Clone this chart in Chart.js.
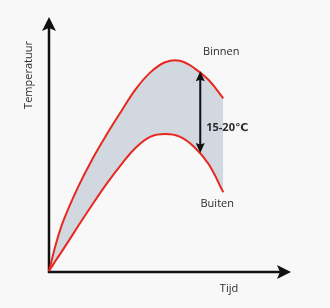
<!DOCTYPE html>
<html>
<head>
<meta charset="utf-8">
<script src="https://cdn.jsdelivr.net/npm/chart.js@4.4.1/dist/chart.umd.min.js"></script>
<style>
  html, body { margin: 0; padding: 0; background: #f8f8f8; }
  #wrap { width: 330px; height: 308px; }
</style>
</head>
<body>
<div id="wrap"><canvas id="chart"></canvas></div>
<script>
// time axis (arbitrary units 0-100) and temperatures (arbitrary units 0-100)
const tijd   = [0, 3, 6, 12, 18, 24, 30, 36, 42, 48, 54, 60, 66, 72];
const binnen = [0, 11.1, 19.9, 33, 44.2, 54, 63.1, 71.8, 78.3, 82.2, 82.8, 79.9, 75.2, 68];
const buiten = [0, 4.4, 8.7, 17.6, 26.3, 34.6, 42.1, 48.7, 52.9, 53.9, 52.9, 48.8, 42, 31];

const naamBinnen = 'Binnen';
const naamBuiten = 'Buiten';
const verschilTekst = '15-20\u2103';
const xTitel = 'Tijd';
const yTitel = 'Temperatuur';
const pijlTijd = 62.5; // where the double arrow sits on the time axis

const rood = '#e8271f';
const vulling = '#d1d8e0';
const zwart = '#111111';
const tekstKleur = '#2b2b2b';
const font = '"Open Sans", "DejaVu Sans", sans-serif';

function arrowHead(ctx, tx, ty, angle, len, halfW, notch) {
    ctx.save();
    ctx.translate(tx, ty);
    ctx.rotate(angle);
    ctx.beginPath();
    ctx.moveTo(0, 0);
    ctx.lineTo(-len, -halfW);
    ctx.lineTo(-len + notch, 0);
    ctx.lineTo(-len, halfW);
    ctx.closePath();
    ctx.fill();
    ctx.restore();
}

// y pixel of a drawn curve at a given x pixel (follows the spline segments)
function curveYAt(points, px) {
    for (let i = 1; i < points.length; i++) {
        const a = points[i - 1], b = points[i];
        if (px >= a.x && px <= b.x) {
            const p0 = a, p1 = { x: a.cp2x, y: a.cp2y }, p2 = { x: b.cp1x, y: b.cp1y }, p3 = b;
            const bez = (m, k) => Math.pow(1 - m, 3) * p0[k] + 3 * Math.pow(1 - m, 2) * m * p1[k] + 3 * (1 - m) * m * m * p2[k] + m * m * m * p3[k];
            let lo = 0, hi = 1;
            for (let k = 0; k < 30; k++) {
                const m = (lo + hi) / 2;
                if (bez(m, 'x') < px) lo = m; else hi = m;
            }
            return bez((lo + hi) / 2, 'y');
        }
    }
    return points[points.length - 1].y;
}

const axesPlugin = {
    id: 'axesPlugin',
    beforeDatasetsDraw(chart) {
        const ctx = chart.ctx;
        const xs = chart.scales.x, ys = chart.scales.y;
        const x0 = xs.getPixelForValue(0);
        const y0 = ys.getPixelForValue(0) + 1;
        const area = chart.chartArea;
        ctx.save();
        ctx.strokeStyle = zwart;
        ctx.fillStyle = zwart;
        ctx.lineWidth = 2.5;
        // y axis
        ctx.beginPath();
        ctx.moveTo(x0, y0 + 1);
        ctx.lineTo(x0, area.top + 8);
        ctx.stroke();
        arrowHead(ctx, x0, area.top, -Math.PI / 2, 14, 7, 3);
        // x axis
        ctx.beginPath();
        ctx.moveTo(x0 - 1, y0);
        ctx.lineTo(area.right - 8, y0);
        ctx.stroke();
        arrowHead(ctx, area.right, y0, 0, 14, 7, 3);
        ctx.restore();
    },
    afterDatasetsDraw(chart) {
        const ctx = chart.ctx;
        const up = chart.getDatasetMeta(0).data;
        const low = chart.getDatasetMeta(1).data;
        const ys = chart.scales.y;
        const y0 = ys.getPixelForValue(0);
        const x0 = chart.scales.x.getPixelForValue(0);
        ctx.save();

        // double arrow between the two curves
        const ax = chart.scales.x.getPixelForValue(pijlTijd);
        const aTop = curveYAt(up, ax) - 1;
        const aBot = curveYAt(low, ax);
        ctx.strokeStyle = zwart;
        ctx.fillStyle = zwart;
        ctx.lineWidth = 2;
        ctx.beginPath();
        ctx.moveTo(ax, aTop + 6);
        ctx.lineTo(ax, aBot - 6);
        ctx.stroke();
        arrowHead(ctx, ax, aTop, -Math.PI / 2, 10, 4.5, 1.5);
        arrowHead(ctx, ax, aBot, Math.PI / 2, 10, 4.5, 1.5);

        // texts
        ctx.fillStyle = tekstKleur;
        ctx.textBaseline = 'middle';
        ctx.textAlign = 'center';
        ctx.font = '11px ' + font;
        const lastUp = up[up.length - 1];
        const lastLow = low[low.length - 1];
        ctx.fillText(naamBinnen, lastUp.x - 2, lastUp.y - 46);
        ctx.fillText(naamBuiten, lastLow.x - 6, lastLow.y + 12);
        ctx.fillText(xTitel, 229, y0 + 18);

        ctx.font = 'bold 11px ' + font;
        ctx.textAlign = 'left';
        ctx.fillText(verschilTekst, ax + 6, (aTop + aBot) / 2 + 16);

        ctx.font = '11px ' + font;
        ctx.translate(x0 - 20, 75);
        ctx.rotate(-Math.PI / 2);
        ctx.textAlign = 'center';
        ctx.fillText(yTitel, 0, 0);
        ctx.restore();
    }
};

new Chart(document.getElementById('chart'), {
    type: 'line',
    data: {
        labels: tijd,
        datasets: [{
            label: naamBinnen,
            data: tijd.map((t, i) => ({ x: t, y: binnen[i] })),
            borderColor: rood,
            borderWidth: 2,
            fill: false,
            pointRadius: 0,
            tension: 0.4,
            clip: false
        }, {
            label: naamBuiten,
            data: tijd.map((t, i) => ({ x: t, y: buiten[i] })),
            borderColor: rood,
            borderWidth: 2,
            backgroundColor: vulling,
            fill: '-1',
            pointRadius: 0,
            tension: 0.4,
            clip: false
        }]
    },
    options: {
        responsive: true,
        maintainAspectRatio: false,
        animation: false,
        layout: { padding: { left: 49, right: 39, top: 17, bottom: 37 } },
        scales: {
            x: { type: 'linear', min: 0, max: 100, display: false },
            y: { type: 'linear', min: 0, max: 100, display: false }
        },
        plugins: {
            legend: { display: false },
            tooltip: { enabled: false },
            filler: { drawTime: 'beforeDatasetsDraw' }
        }
    },
    plugins: [axesPlugin]
});
</script>
</body>
</html>
